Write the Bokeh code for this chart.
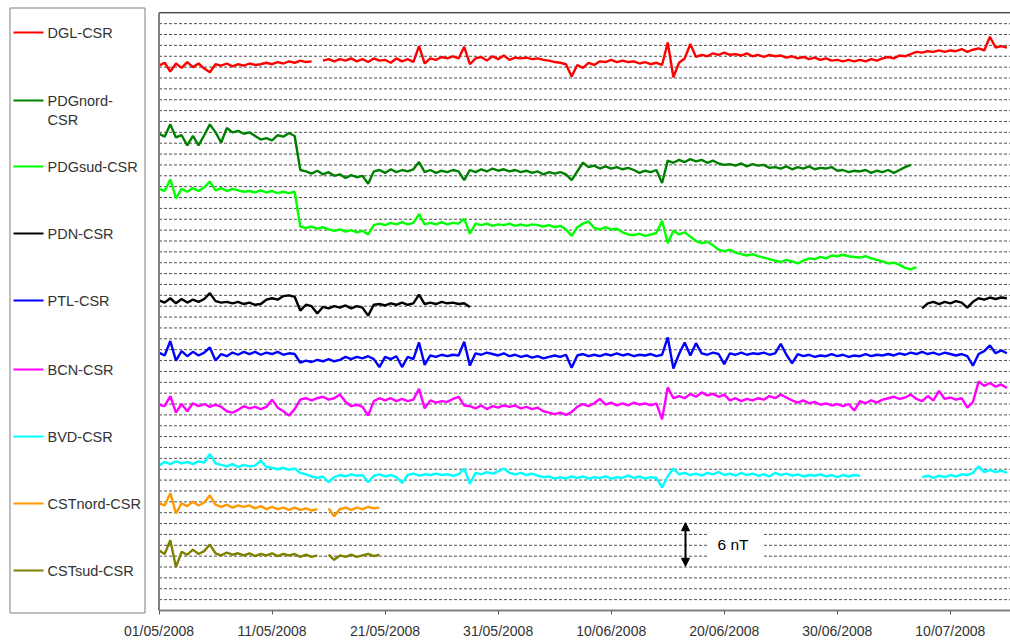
import numpy as np
from datetime import datetime
from bokeh.plotting import figure
from bokeh.models import Range1d, FixedTicker, DatetimeTickFormatter, Arrow, NormalHead
from bokeh.core.properties import value
from bokeh.embed import file_html
from bokeh.resources import INLINE

# ---------------------------------------------------------------- data
first_sample = "01/05/2008"
sample_step_hours = 12
tick_labels = ["01/05/2008", "11/05/2008", "21/05/2008", "31/05/2008",
               "10/06/2008", "20/06/2008", "30/06/2008", "10/07/2008"]
series_labels = ["DGL-CSR", "PDGnord-\nCSR", "PDGsud-CSR", "PDN-CSR", "PTL-CSR",
                 "BCN-CSR", "BVD-CSR", "CSTnord-CSR", "CSTsud-CSR"]
scale_bar_nT = 6
scale_bar_label = "6 nT"

# differences in nT, one value every 12 h from 01/05/2008 (None = no data)
dgl_csr = [
    0.0, 0.4, -0.8, 0.3, -0.3, 0.5, -0.2, 0.3, -0.4, -0.9,
    0.2, 0.0, 0.3, -0.1, 0.2, 0.0, 0.3, 0.1, 0.2, 0.4,
    0.2, 0.5, 0.3, 0.6, 0.4, 0.7, 0.5, 0.6, None, 0.7,
    0.9, 0.6, 0.9, 0.7, 1.0, 0.6, 0.9, 0.5, 1.0, 0.7,
    0.8, 0.4, 1.0, 0.6, 0.9, 0.5, 2.7, 0.3, 1.0, 0.8,
    1.2, 1.0, 1.3, 1.0, 2.6, 0.2, 1.0, 1.2, 0.7, 1.3,
    0.9, 1.4, 0.8, 1.1, 1.0, 1.1, 0.9, 1.0, 0.8, 0.7,
    0.5, 0.4, 0.2, -1.5, 0.1, -0.3, 0.4, 0.1, 0.6, 0.5,
    0.8, 0.5, 0.7, 0.5, 0.6, 0.3, 0.5, 0.2, 0.4, 0.1,
    3.2, -1.6, 0.4, 1.0, 3.0, 1.2, 1.5, 1.3, 1.7, 1.5,
    1.8, 1.5, 1.6, 1.4, 1.7, 1.3, 1.5, 1.2, 1.5, 1.3,
    1.4, 1.1, 1.3, 1.0, 1.2, 0.9, 1.1, 0.8, 1.0, 0.7,
    0.8, 0.6, 0.8, 0.6, 0.8, 0.6, 0.9, 0.7, 1.0, 1.2,
    1.0, 1.4, 1.3, 1.6, 1.9, 1.8, 2.0, 1.9, 2.1, 1.9,
    2.1, 2.0, 2.3, 1.9, 2.2, 2.4, 2.1, 4.0, 2.5, 2.7,
    2.5]

pdgnord_csr = [
    0.0, -0.4, 1.3, -0.5, -0.2, -1.6, -0.3, -1.6, -0.2, 1.3,
    0.2, -1.2, 0.8, 0.2, 0.4, 0.0, 0.2, -0.3, -0.8, -0.6,
    -0.9, -0.2, -0.4, 0.1, -0.3, -5.0, -5.2, -5.5, -5.1, -5.6,
    -5.3, -5.8, -5.6, -6.1, -5.7, -6.0, -5.8, -6.9, -5.2, -5.0,
    -5.4, -4.9, -5.3, -5.0, -5.2, -4.9, -3.9, -5.3, -5.0, -5.4,
    -5.1, -5.3, -5.0, -5.2, -6.4, -5.0, -5.3, -4.9, -5.2, -4.8,
    -5.1, -4.9, -5.2, -5.0, -5.3, -5.1, -5.4, -5.2, -5.6, -5.3,
    -5.5, -5.3, -5.6, -6.4, -5.2, -4.0, -4.6, -4.4, -4.8, -4.5,
    -4.8, -4.6, -4.9, -4.7, -5.0, -5.4, -5.1, -5.3, -5.0, -6.8,
    -3.7, -4.0, -3.6, -3.9, -3.5, -3.8, -3.6, -4.0, -3.7, -4.1,
    -4.3, -4.2, -4.4, -4.1, -4.5, -4.2, -4.4, -4.3, -4.7, -4.6,
    -4.8, -4.5, -4.9, -4.6, -4.8, -4.5, -4.9, -4.7, -4.8, -4.6,
    -5.1, -5.0, -5.3, -5.1, -5.2, -5.0, -5.4, -5.1, -5.3, -5.0,
    -5.4, -5.0, -4.6, -4.3]

pdgsud_csr = [
    0.0, -0.3, 1.3, -1.3, 0.0, -0.4, 0.1, -0.3, 0.2, 1.0,
    -0.2, 0.1, -0.3, 0.0, -0.2, -0.4, -0.3, -0.5, -0.2, -0.5,
    -0.3, -0.6, -0.4, -0.6, -0.4, -5.2, -5.4, -5.2, -5.5, -5.3,
    -5.6, -5.8, -5.6, -5.9, -5.7, -6.0, -5.8, -6.3, -5.0, -4.8,
    -5.0, -4.7, -4.9, -4.6, -4.9, -4.7, -3.5, -4.9, -4.7, -4.9,
    -4.6, -4.9, -4.7, -4.8, -4.1, -6.2, -4.8, -5.0, -4.8, -5.1,
    -4.9, -5.0, -4.8, -5.1, -4.9, -5.1, -4.9, -5.0, -5.2, -5.0,
    -5.3, -5.1, -5.6, -6.5, -5.3, -4.8, -4.5, -5.4, -5.6, -5.3,
    -5.6, -5.5, -6.0, -6.3, -6.4, -6.2, -6.5, -6.3, -6.1, -4.4,
    -7.5, -5.8, -6.3, -6.0, -6.6, -7.2, -7.5, -7.3, -7.8, -8.4,
    -8.6, -8.4, -8.8, -9.0, -9.2, -9.0, -9.3, -9.5, -9.7, -9.9,
    -10.1, -9.8, -10.0, -10.3, -9.9, -9.6, -9.7, -9.4, -9.6, -9.2,
    -9.3, -9.1, -9.3, -9.4, -9.5, -9.3, -9.6, -9.8, -10.0, -10.3,
    -10.2, -10.5, -10.9, -11.1, -10.8]

pdn_csr = [
    0.0, -0.3, 0.3, -0.4, 0.2, -0.3, 0.1, -0.2, 0.2, 1.0,
    -0.1, -0.3, -0.2, -0.4, -0.2, -0.5, -0.3, -0.6, -0.5, 0.1,
    0.3, 0.1, 0.6, 0.7, 0.5, -1.4, -0.6, -0.8, -1.8, -0.9,
    -1.1, -0.8, -1.0, -0.7, -1.1, -0.8, -1.0, -2.1, -0.6, -0.5,
    -0.7, -0.4, -0.6, -0.3, -0.6, -0.4, 0.8, -0.5, -0.3, -0.5,
    -0.2, -0.4, -0.3, -0.5, -0.4, -0.9] + [None] * 79 + [
    -1.1, -0.4, -0.2, -0.5, -0.2, -0.4, -0.1, -0.3, -1.0, -0.2,
    0.3, 0.1, 0.4, 0.2, 0.4, 0.3]

ptl_csr = [
    0.0, -0.4, 1.6, -1.1, 0.2, -0.5, 0.1, -0.4, 0.0, 0.7,
    -1.1, -0.2, -0.5, 0.0, -0.3, 0.1, -0.2, 0.1, -0.3, 0.0,
    -0.2, 0.1, -0.3, -0.1, -0.2, -1.4, -1.1, -1.3, -1.0, -1.2,
    -0.9, -1.2, -1.0, -0.6, -0.9, -0.6, -0.8, -0.5, -0.9, -2.0,
    -0.6, -0.9, -0.5, -2.0, -0.6, -0.9, 1.4, -1.7, -0.4, -0.6,
    -0.3, -0.5, -0.3, -0.4, 1.5, -1.8, -0.1, -0.3, 0.0, -0.2,
    -0.4, -0.1, -0.5, -0.3, -0.6, -0.4, -0.7, -0.5, -0.8, -0.6,
    -0.4, -0.6, -0.3, -2.1, -0.4, -0.2, -0.5, -0.3, -0.5, -0.2,
    -0.4, -0.1, -0.4, -0.2, -0.5, -0.3, -0.4, -0.2, -0.5, -0.3,
    2.1, -2.2, -0.2, 1.4, -0.4, 1.3, -0.1, -0.3, 0.0, -0.2,
    -1.6, -0.1, -0.3, 0.0, -0.3, -0.1, -0.2, 0.0, -0.3, -0.1,
    1.2, -0.3, -1.5, -0.2, -0.5, -0.3, -0.6, -0.4, -0.5, -0.2,
    -0.5, -0.3, -0.6, -0.4, -0.5, -0.2, -0.5, -0.3, -0.4, -0.2,
    -0.4, -0.1, -0.3, 0.0, -0.2, 0.1, -0.2, 0.0, -0.3, 0.0,
    -0.2, -0.4, -0.2, -0.5, -1.8, -0.2, 0.2, 1.0, -0.1, 0.3,
    -0.1]

bcn_csr = [
    0.0, -0.2, 1.2, -1.1, 0.1, -0.9, 0.2, -0.2, 0.1, -0.3,
    0.0, -0.3, -0.9, -1.1, -0.7, -0.2, -0.5, -0.3, -0.6, -0.3,
    0.7, -0.4, -0.9, -1.5, -0.6, 0.7, 0.9, 0.6, 0.9, 1.1,
    0.7, 0.9, 1.4, 0.4, -0.2, 0.0, -0.3, -1.5, 0.5, 0.9,
    0.6, 0.9, 0.5, 0.8, 0.5, 0.7, 2.2, -0.5, 0.6, 0.3,
    0.5, 0.4, 0.8, 1.1, -0.1, -0.2, -0.5, -0.1, -0.6, -0.2,
    -0.4, -0.1, -0.3, -0.1, -0.5, -0.3, -0.6, -0.4, -0.9, -1.1,
    -1.3, -1.1, -1.4, -1.0, -0.3, 0.1, -0.2, 0.2, 0.8, 0.0,
    0.3, -0.1, 0.2, -0.1, 0.3, 0.0, 0.2, -0.1, 0.2, -2.0,
    2.4, 0.9, 1.2, 0.9, 1.5, 1.1, 1.7, 1.3, 1.5, 1.1,
    1.4, 0.6, 0.9, 0.5, 0.8, 0.6, 0.9, 0.7, 1.2, 0.9,
    1.4, 1.0, 0.6, 0.3, 0.6, 0.2, 0.4, 0.0, 0.2, -0.1,
    0.1, -0.2, 0.1, -0.8, 0.5, 0.2, 0.6, 0.3, 0.7, 0.9,
    1.1, 0.8, 1.0, 1.4, 0.8, 0.5, 1.2, 0.6, 1.9, 0.8,
    1.0, 0.7, 0.9, -0.4, 0.4, 3.2, 2.6, 3.0, 2.5, 2.8,
    2.3]

bvd_csr = [
    0.0, 0.5, 0.2, 0.6, 0.3, 0.5, 0.2, 0.6, 0.4, 1.6,
    0.3, 0.1, -0.1, 0.2, -0.2, 0.1, -0.1, 0.0, 0.7, -0.2,
    -0.3, -0.5, -0.3, -0.6, -0.4, -1.0, -1.2, -1.5, -1.7, -1.5,
    -2.3, -1.6, -1.3, -1.5, -1.2, -1.4, -1.3, -2.3, -1.4, -1.2,
    -1.5, -1.3, -1.6, -2.4, -1.3, -1.1, -1.4, -1.2, -1.3, -1.1,
    -1.3, -1.2, -1.4, -1.2, -0.4, -2.5, -1.0, -1.2, -0.9, -1.1,
    -0.8, -0.4, -1.0, -1.2, -1.0, -1.3, -1.1, -1.4, -1.6, -1.5,
    -1.8, -1.6, -1.8, -1.5, -1.7, -1.5, -1.8, -1.6, -1.7, -1.5,
    -1.8, -1.6, -1.7, -1.4, -1.7, -1.5, -1.8, -1.6, -1.7, -3.0,
    -1.5, -0.4, -1.2, -1.0, -1.3, -1.1, -1.4, -1.0, -1.2, -0.9,
    -1.3, -1.1, -1.4, -1.0, -1.3, -1.1, -1.4, -1.2, -1.5, -1.0,
    -1.3, -1.1, -1.4, -1.2, -1.5, -1.3, -1.4, -1.2, -1.5, -1.3,
    -1.6, -1.3, -1.5, -1.3, -1.4] + [None] * 10 + [
    -1.6, -1.4, -1.7, -1.4, -1.6, -1.3, -1.5, -1.2, -1.3, -1.0,
    -0.1, -0.9, -0.6, -0.9, -0.7, -1.0]

cstnord_csr = [
    0.0, -0.3, 1.4, -1.4, 0.0, -0.4, 0.2, -0.3, 0.1, 1.1,
    -0.2, -0.5, -0.2, -0.6, -0.3, -0.5, -0.3, -0.7, -0.4, -0.8,
    -0.5, -0.8, -0.6, -0.9, -0.6, -0.9, -0.7, -1.0, -0.8, None,
    -0.7, -1.8, -0.8, -0.6, -0.9, -0.6, -0.8, -0.5, -0.7, -0.6]

cstsud_csr = [
    0.0, -0.5, 1.4, -2.3, -0.2, -0.6, 0.1, -0.5, -0.1, 0.8,
    -0.4, -0.7, -0.3, -0.6, -0.4, -0.7, -0.4, -0.8, -0.5, -0.7,
    -0.4, -0.8, -0.5, -0.7, -0.5, -0.9, -0.6, -0.9, -0.7, None,
    -0.6, -1.3, -0.7, -0.9, -0.6, -0.9, -0.7, -0.5, -0.8, -0.6]

series_values = [dgl_csr, pdgnord_csr, pdgsud_csr, pdn_csr, ptl_csr,
                 bcn_csr, bvd_csr, cstnord_csr, cstsud_csr]

# ---------------------------------------------------------------- layout / style
colors = ["#FF0000", "#008000", "#00FF00", "#000000", "#0000FF",
          "#FF00FF", "#00FFFF", "#FF9900", "#808000"]
display_offsets_nT = [75.2, 65.8, 58.2, 42.8, 35.6, 28.4, 20.0, 14.8, 8.3]
legend_item_py = [32, 100, 166, 233, 300, 369, 436, 503, 570]

W, H = 1010, 641
PAGE = 0               # canvas sits at the page's top-left corner
X0_PX = 158.5          # x of first sample
PX_PER_DAY = 11.305
Y0_PY = 610.0          # y of 0 nT
PX_PER_NT = 7.245
TOP_NT = 82.5
GRID_STEP_NT = 1.5
DAY_MS = 86400000.0
EPOCH = datetime(1970, 1, 1)
FONT = "Liberation Sans"

t0 = datetime.strptime(first_sample, "%d/%m/%Y")
t0_ms = (t0 - EPOCH).total_seconds() * 1000.0


def xd(px):
    return t0_ms + (px - X0_PX) / PX_PER_DAY * DAY_MS


def yd(py):
    return (Y0_PY - py) / PX_PER_NT


p = figure(width=W, height=H, x_axis_type="datetime", y_axis_location=None,
           x_range=Range1d(xd(PAGE), xd(PAGE + W)),
           y_range=Range1d(yd(PAGE + H), yd(PAGE)),
           output_backend="svg", toolbar_location=None,
           min_border_left=0, min_border_right=0, min_border_top=0, min_border_bottom=0)
p.outline_line_color = None
p.background_fill_color = "white"
p.border_fill_color = "white"
p.grid.visible = False

x_end = xd(PAGE + W)

# dashed horizontal grid
levels = list(np.arange(1, int(round(TOP_NT / GRID_STEP_NT))) * GRID_STEP_NT)
p.segment(x0=[t0_ms] * len(levels), x1=[x_end] * len(levels), y0=levels, y1=levels,
          line_color="#505050", line_width=1, line_dash="3 2")

# data lines
n_all = max(len(v) for v in series_values)
x_all = t0_ms + np.arange(n_all) * sample_step_hours * 3600000.0
for vals, col, off in zip(series_values, colors, display_offsets_nT):
    y = off + np.array(vals, dtype=float)
    p.line(x_all[:len(vals)], y, line_color=col, line_width=2.4)

# frame borders
p.segment(x0=[t0_ms], x1=[x_end], y0=[TOP_NT], y1=[TOP_NT], line_color="#000000", line_width=1)
p.segment(x0=[t0_ms], x1=[t0_ms], y0=[0], y1=[TOP_NT], line_color="#808080", line_width=2)
p.segment(x0=[t0_ms], x1=[x_end], y0=[0], y1=[0], line_color="#808080", line_width=2)

# x axis (drawn at 0 nT)
ax = p.xaxis[0]
ax.fixed_location = 0
ax.axis_line_color = None
ax.ticker = FixedTicker(ticks=[(datetime.strptime(s, "%d/%m/%Y") - EPOCH).total_seconds() * 1000.0
                               for s in tick_labels])
fmt = "%d/%m/%Y"
ax.formatter = DatetimeTickFormatter(microseconds=fmt, milliseconds=fmt, seconds=fmt, minsec=fmt,
                                     minutes=fmt, hourmin=fmt, hours=fmt, days=fmt,
                                     months=fmt, years=fmt)
ax.major_tick_in = 0
ax.major_tick_out = 4
ax.major_tick_line_color = "#606060"
ax.minor_tick_line_color = None
ax.major_label_standoff = 8
ax.major_label_text_font = FONT
ax.major_label_text_font_size = "14px"
ax.major_label_text_color = "#333333"

# legend box
p.quad(left=[xd(9.5)], right=[xd(144.5)], top=[yd(7.5)], bottom=[yd(612.5)],
       fill_color="white", line_color="#7f7f7f", line_width=1)
p.segment(x0=[xd(13)] * 9, x1=[xd(43)] * 9,
          y0=[yd(v) for v in legend_item_py], y1=[yd(v) for v in legend_item_py],
          line_color=colors, line_width=2)
p.text(x=[xd(47)] * 9, y=[yd(v - 8) for v in legend_item_py], text=series_labels,
       text_font=value(FONT), text_font_size=value("14.5px"), text_color="#333333",
       text_align="left", text_baseline="top")

# scale bar
p.quad(left=[xd(708)], right=[xd(762)], top=[yd(527)], bottom=[yd(561)],
       fill_color="white", line_color=None)
p.text(x=[xd(732.5)], y=[yd(544)], text=[scale_bar_label], text_font=value(FONT),
       text_font_size=value("15.5px"), text_color="#000000",
       text_align="center", text_baseline="middle")
bar_base = yd(544) - scale_bar_nT / 2
p.add_layout(Arrow(start=NormalHead(size=8, fill_color="black", line_color="black"),
                   end=NormalHead(size=8, fill_color="black", line_color="black"),
                   x_start=xd(685), x_end=xd(685), y_start=bar_base,
                   y_end=bar_base + scale_bar_nT, line_width=2, line_color="black"))

open("out.html", "w").write(file_html(p, INLINE))
